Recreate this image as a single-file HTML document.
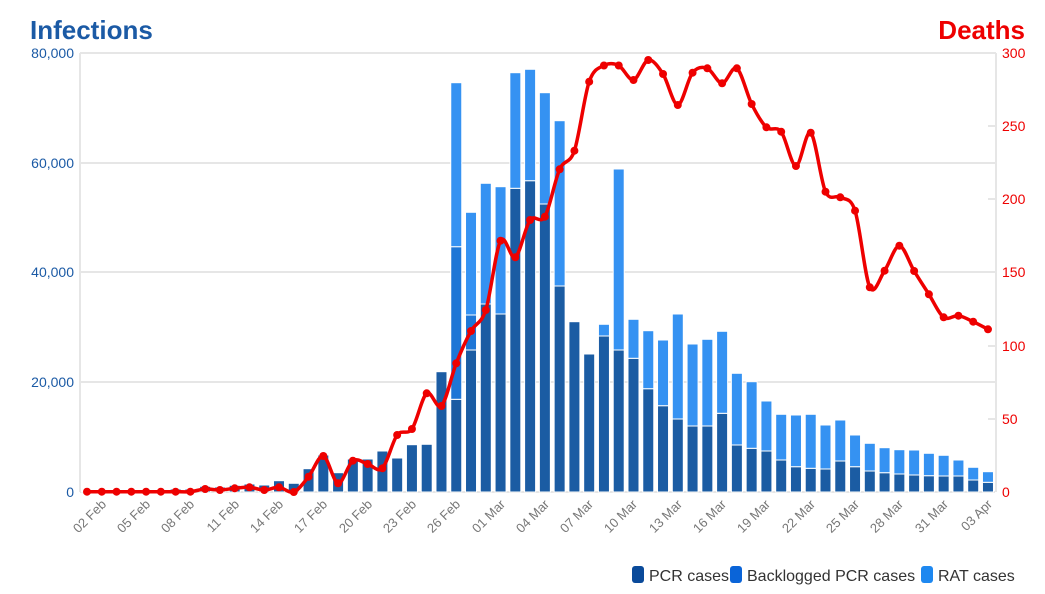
<!DOCTYPE html>
<html><head><meta charset="utf-8"><style>
html,body{margin:0;padding:0;background:#fff;}
svg{display:block;font-family:"Liberation Sans",sans-serif;}
</style></head><body>
<svg id="s" width="1045" height="594" viewBox="0 0 1045 594" xmlns="http://www.w3.org/2000/svg">
<text x="30" y="39" font-size="26" font-weight="bold" fill="#1b5aa5">Infections</text>
<text x="1025" y="39" font-size="26" font-weight="bold" fill="#ee0000" text-anchor="end">Deaths</text>
<g stroke="#e6e6e6" stroke-width="2">
<line x1="80" y1="53" x2="995" y2="53"/><line x1="80" y1="163" x2="995" y2="163"/>
<line x1="80" y1="272" x2="995" y2="272"/><line x1="80" y1="382" x2="995" y2="382"/>
<line x1="80" y1="492" x2="995" y2="492"/>
<line x1="80" y1="53" x2="80" y2="492"/><line x1="996" y1="53" x2="996" y2="492"/>
<line x1="988" y1="53" x2="996" y2="53"/><line x1="988" y1="126" x2="996" y2="126"/>
<line x1="988" y1="199" x2="996" y2="199"/><line x1="988" y1="272" x2="996" y2="272"/>
<line x1="988" y1="346" x2="996" y2="346"/><line x1="988" y1="419" x2="996" y2="419"/>
</g>
<g font-size="14" fill="#1b5aa5" text-anchor="end">
<text x="74" y="58">80,000</text><text x="74" y="168">60,000</text>
<text x="74" y="277">40,000</text><text x="74" y="387">20,000</text><text x="74" y="497">0</text>
</g>
<g font-size="14" fill="#ee0000">
<text x="1002" y="58">300</text><text x="1002" y="131">250</text><text x="1002" y="204">200</text>
<text x="1002" y="277">150</text><text x="1002" y="351">100</text><text x="1002" y="424">50</text><text x="1002" y="497">0</text>
</g>
<g id="bars"></g>
<g id="line"></g>
<g font-size="13" fill="#777" text-anchor="end">
<text transform="translate(107,505) rotate(-45)">02 Feb</text>
<text transform="translate(151,505) rotate(-45)">05 Feb</text>
<text transform="translate(195,505) rotate(-45)">08 Feb</text>
<text transform="translate(240,505) rotate(-45)">11 Feb</text>
<text transform="translate(284,505) rotate(-45)">14 Feb</text>
<text transform="translate(328,505) rotate(-45)">17 Feb</text>
<text transform="translate(373,505) rotate(-45)">20 Feb</text>
<text transform="translate(417,505) rotate(-45)">23 Feb</text>
<text transform="translate(461,505) rotate(-45)">26 Feb</text>
<text transform="translate(506,505) rotate(-45)">01 Mar</text>
<text transform="translate(550,505) rotate(-45)">04 Mar</text>
<text transform="translate(594,505) rotate(-45)">07 Mar</text>
<text transform="translate(638,505) rotate(-45)">10 Mar</text>
<text transform="translate(683,505) rotate(-45)">13 Mar</text>
<text transform="translate(727,505) rotate(-45)">16 Mar</text>
<text transform="translate(771,505) rotate(-45)">19 Mar</text>
<text transform="translate(816,505) rotate(-45)">22 Mar</text>
<text transform="translate(860,505) rotate(-45)">25 Mar</text>
<text transform="translate(904,505) rotate(-45)">28 Mar</text>
<text transform="translate(949,505) rotate(-45)">31 Mar</text>
<text transform="translate(993,505) rotate(-45)">03 Apr</text>
</g>
<g font-size="16" fill="#333">
<rect x="632" y="566" width="12" height="17" rx="3" fill="#0a4a9a"/>
<text x="649" y="581">PCR cases</text>
<rect x="730" y="566" width="12" height="17" rx="3" fill="#0a64d8"/>
<text x="747" y="581">Backlogged PCR cases</text>
<rect x="921" y="566" width="12" height="17" rx="3" fill="#1e88f0"/>
<text x="938" y="581">RAT cases</text>
</g>
</svg>
<script>
(function(){
var pcr=[491,491,491,491,491,490,489,489,486.3,487,485.3,484,485,480.7,483.3,468.7,455,472.7,459,459,451,458,444.7,444.3,371.7,399.3,350,304,314,188.3,180.7,204,286,321.7,354,336,350,358.3,388.7,405.7,419,426,426,413.3,445,448.3,451,460,466.7,468.3,469,461,466.7,471,472.7,474,475,475.7,476,476,480,482.3];
var bl={25:246.7,26:315};
var rat={25:82.7,26:212.3,27:183.3,28:186.7,29:72.7,30:69.3,31:92.7,32:120.7,35:324.3,36:169,37:319.3,38:330.7,39:340,40:314,41:344,42:339.3,43:331.3,44:373.3,45:381.7,46:401,47:414.3,48:415,49:414.3,50:425,51:420,52:435,53:443.3,54:447.7,55:449.7,56:450,57:453.3,58:455.3,59:460,60:467.3,61:471.7};
var d=[491.7,491.7,491.7,491.7,491.7,491.7,491.7,491.7,489,490,488.3,487.3,490,487.3,492,476.7,456,483.3,460.7,464,468.3,435,429,393.3,406,363.3,331,310,240.7,257.3,220,216.7,169.3,150.7,81.7,65.5,65.5,80,60,74,105,72.7,68.3,83.3,68.3,104,127.3,131.7,166,132.7,191.7,197.3,210.7,287.3,270.7,245.7,271,294.3,317.3,315.7,321.7,329.3];
var X=function(i){return 87+14.77*i;};
var g=document.getElementById("bars"),h="";
function r(x,y1,y2,c){if(y2-y1<0.5)return "";return '<rect x="'+(x-5.5)+'" y="'+y1+'" width="11" height="'+(y2-y1)+'" fill="'+c+'" stroke="#fff" stroke-width="1"/>';}
for(var i=0;i<pcr.length;i++){var x=X(i);h+=r(x,pcr[i],492,"#1b5ca3");var tp=pcr[i];if(bl[i]){h+=r(x,bl[i],tp,"#1e76d6");tp=bl[i];}if(rat[i]){h+=r(x,rat[i],tp,"#3592f2");}}
g.innerHTML=h;
var p="M"+X(0)+","+d[0];
for(var i=0;i<d.length-1;i++){var x0=X(Math.max(i-1,0)),y0=d[Math.max(i-1,0)],x1=X(i),y1=d[i],x2=X(i+1),y2=d[i+1],x3=X(Math.min(i+2,d.length-1)),y3=d[Math.min(i+2,d.length-1)];
var t=0.16;p+=" C"+(x1+(x2-x0)*t)+","+(y1+(y2-y0)*t)+" "+(x2-(x3-x1)*t)+","+(y2-(y3-y1)*t)+" "+x2+","+y2;}
var lh='<path d="'+p+'" fill="none" stroke="#ee0000" stroke-width="3.5" stroke-linejoin="round"/>';
for(var i=0;i<d.length;i++)lh+='<circle cx="'+X(i)+'" cy="'+d[i]+'" r="4" fill="#ee0000"/>';
document.getElementById("line").innerHTML=lh;
})();
</script>
</body></html>
